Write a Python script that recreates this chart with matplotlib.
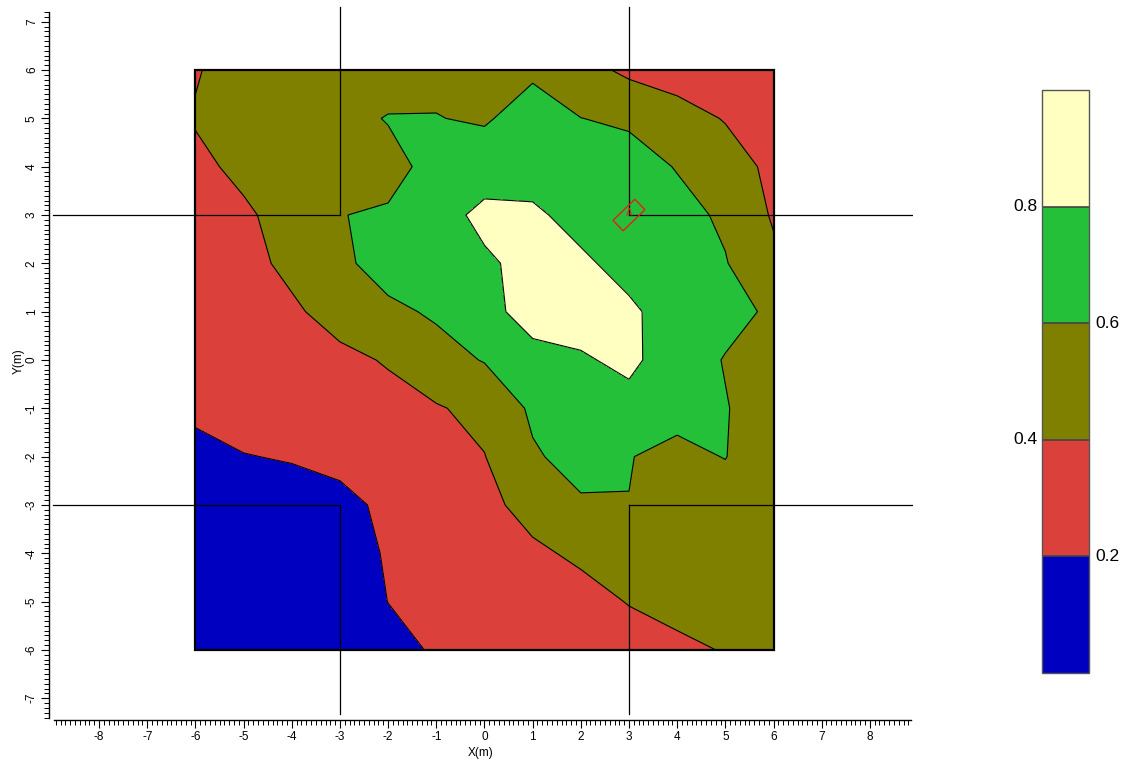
import numpy as np
import matplotlib
matplotlib.use("Agg")
import matplotlib.pyplot as plt
from matplotlib.colors import ListedColormap, BoundaryNorm
from matplotlib.patches import Rectangle
from matplotlib.ticker import FixedLocator

plt.rcParams['font.family'] = ['Liberation Sans', 'DejaVu Sans']

# Grid nodes of the survey area (m)
x_nodes = [-6, -5, -4, -3, -2, -1, 0, 1, 2, 3, 4, 5, 6]
y_nodes = [6, 5, 4, 3, 2, 1, 0, -1, -2, -3, -4, -5, -6]

# Measured values at the nodes, one row per y (top row is y = 6)
row_y6 = [0.39, 0.46, 0.50, 0.53, 0.55, 0.56, 0.56, 0.57, 0.47, 0.36, 0.32, 0.29, 0.27]
row_y5 = [0.41, 0.48, 0.54, 0.57, 0.605, 0.605, 0.58, 0.68, 0.602, 0.57, 0.47, 0.39, 0.33]
row_y4 = [0.37, 0.43, 0.49, 0.55, 0.57, 0.63, 0.70, 0.72, 0.72, 0.68, 0.59, 0.48, 0.36]
row_y3 = [0.35, 0.38, 0.45, 0.598, 0.61, 0.72, 0.85, 0.83, 0.74, 0.70, 0.66, 0.57, 0.38]
row_y2 = [0.33, 0.36, 0.43, 0.56, 0.68, 0.74, 0.77, 0.86, 0.83, 0.74, 0.68, 0.61, 0.44]
row_y1 = [0.30, 0.33, 0.38, 0.45, 0.56, 0.625, 0.72, 0.90, 0.88, 0.83, 0.72, 0.66, 0.57]
row_y0 = [0.27, 0.30, 0.33, 0.37, 0.41, 0.53, 0.61, 0.72, 0.78, 0.84, 0.70, 0.59, 0.50]
row_ym1 = [0.22, 0.26, 0.30, 0.33, 0.36, 0.385, 0.45, 0.63, 0.72, 0.74, 0.65, 0.61, 0.50]
row_ym2 = [0.17, 0.195, 0.21, 0.24, 0.29, 0.34, 0.395, 0.58, 0.66, 0.605, 0.56, 0.605, 0.47]
row_ym3 = [0.10, 0.12, 0.14, 0.16, 0.23, 0.30, 0.37, 0.44, 0.58, 0.598, 0.54, 0.52, 0.45]
row_ym4 = [0.08, 0.10, 0.12, 0.15, 0.21, 0.27, 0.32, 0.38, 0.42, 0.47, 0.50, 0.50, 0.48]
row_ym5 = [0.07, 0.08, 0.10, 0.14, 0.201, 0.25, 0.29, 0.33, 0.36, 0.405, 0.43, 0.48, 0.48]
row_ym6 = [0.06, 0.07, 0.09, 0.12, 0.17, 0.21, 0.26, 0.30, 0.33, 0.35, 0.38, 0.405, 0.44]

levels = [0.0, 0.2, 0.4, 0.6, 0.8, 1.0]
band_colors = ['#0000C0', '#DB403B', '#808000', '#25C03A', '#FFFFC2']
scale_labels = ['0.2', '0.4', '0.6', '0.8']

# Survey lines and probe position
line_positions = [-3, 3]
probe_x, probe_y = 3.0, 3.0
probe_len, probe_wid, probe_angle = 0.63, 0.30, 44

rows = [row_y6, row_y5, row_y4, row_y3, row_y2, row_y1, row_y0,
        row_ym1, row_ym2, row_ym3, row_ym4, row_ym5, row_ym6]
Z = np.array(rows)[::-1]
X = np.array(x_nodes)
Y = np.array(y_nodes)[::-1]

fig = plt.figure(figsize=(11.26, 7.61), dpi=100)
ax = fig.add_axes([49 / 1126, 41.5 / 761, 864.2 / 1126, 717.1 / 761])

cmap = ListedColormap(band_colors)
norm = BoundaryNorm(levels, cmap.N)
cs = ax.contourf(X, Y, Z, levels=levels, cmap=cmap, norm=norm, zorder=1)
ax.contour(X, Y, Z, levels=levels[1:-1], colors='black', linewidths=0.8, zorder=2)

# Frame of the survey area
ax.add_patch(Rectangle((X.min(), Y.min()), X.max() - X.min(), Y.max() - Y.min(),
                       fill=False, edgecolor='black', linewidth=1.6, zorder=4))

# Survey lines, drawn outside the central square only
for p in line_positions:
    ax.plot([p, p], [3, 7.3], color='black', lw=0.9, zorder=3)
    ax.plot([p, p], [-7.33, -3], color='black', lw=0.9, zorder=3)
    ax.plot([-8.95, -3], [p, p], color='black', lw=0.9, zorder=3)
    ax.plot([3, 8.96], [p, p], color='black', lw=0.9, zorder=3)

# Probe marker
ax.add_patch(Rectangle((probe_x - probe_len / 2, probe_y - probe_wid / 2), probe_len, probe_wid,
                       angle=probe_angle, rotation_point='center', fill=False,
                       edgecolor='#E02020', linewidth=1.0, zorder=5))
ax.text(probe_x, probe_y + 0.05, 'A', color='#E02020', fontsize=7, ha='center', va='center', zorder=5)

ax.set_xlim(-9.04, 8.9)
ax.set_ylim(-7.44, 7.4)

for s in ['top', 'right']:
    ax.spines[s].set_visible(False)
ax.spines['bottom'].set_bounds(-8.94, 8.85)
ax.spines['left'].set_bounds(-7.41, 7.2)
ax.spines['bottom'].set_linewidth(1.0)
ax.spines['left'].set_linewidth(1.0)

ax.xaxis.set_major_locator(FixedLocator(np.arange(-8, 9)))
ax.xaxis.set_minor_locator(FixedLocator(np.round(np.arange(-8.9, 8.85, 0.1), 1)))
ax.yaxis.set_major_locator(FixedLocator(np.arange(-7, 8)))
ax.yaxis.set_minor_locator(FixedLocator(np.round(np.arange(-7.4, 7.25, 0.1), 1)))
ax.tick_params(which='major', direction='out', length=6, width=0.8, labelsize=8.5, pad=2)
ax.tick_params(which='minor', direction='out', length=3.5, width=0.7)
ax.set_xticklabels([str(v) for v in range(-8, 9)])
ax.set_yticklabels([str(v) for v in range(-7, 8)], rotation=90, va='center')

ax.set_xlabel('X(m)', fontsize=8.5, labelpad=3)
ax.set_ylabel('Y(m)', fontsize=8.5, labelpad=1)

# Scale bar
cax = fig.add_axes([1042 / 1126, 88 / 761, 47 / 1126, 583 / 761])
cb = fig.colorbar(cs, cax=cax, drawedges=True)
cb.outline.set_edgecolor('#555555')
cb.outline.set_linewidth(1.0)
cb.dividers.set_color('#444444')
cb.dividers.set_linewidth(1.2)
cb.set_ticks([])
cax.tick_params(which='both', length=0, labelright=False, labelleft=False)
cax.minorticks_off()
for i, lab in enumerate(scale_labels):
    v = float(lab)
    if i % 2 == 0:
        cax.text(1.13, v, lab, ha='left', va='center', fontsize=12.5, transform=cax.get_yaxis_transform())
    else:
        cax.text(-0.1, v, lab, ha='right', va='center', fontsize=12.5, transform=cax.get_yaxis_transform())

fig.savefig('out.png', dpi=100)
